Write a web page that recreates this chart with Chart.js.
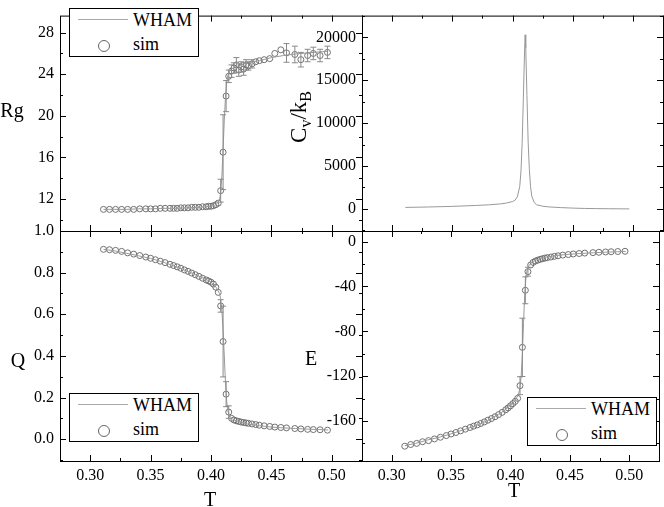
<!DOCTYPE html>
<html>
<head>
<meta charset="utf-8">
<script src="https://cdn.jsdelivr.net/npm/chart.js@4.4.0/dist/chart.umd.min.js"></script>
<style>
  body { margin: 0; background: #fff; }
  #wrap { position: relative; width: 664px; height: 507px; font-family: "Liberation Serif", "Times New Roman", serif; color: #000; }
  #wrap canvas { position: absolute; left: 0; top: 0; }
  .title { position: absolute; font-size: 20px; line-height: 1; white-space: nowrap; transform: translate(-50%, -50%); }
  .title sub { font-size: 16px; vertical-align: -5px; }
  .rot { font-size: 23px; transform: translate(-50%, -50%) rotate(-90deg); }
  .legend { position: absolute; width: 128px; height: 47px; border: 1px solid #000; background: #fff; font-size: 18px; }
  .legend .ln { position: absolute; left: 8px; top: 10px; width: 50px; border-top: 1px solid #aaa; }
  .legend .pt { position: absolute; left: 28px; top: 31px; width: 10px; height: 10px; border: 1px solid #666; border-radius: 50%; }
  .legend .t1 { position: absolute; left: 63px; top: 1px; }
  .legend .t2 { position: absolute; left: 63px; top: 25px; }
</style>
</head>
<body>
<div id="wrap">
  <canvas id="rgChart" width="664" height="507"></canvas>
  <canvas id="cvChart" width="664" height="507"></canvas>
  <canvas id="qChart" width="664" height="507"></canvas>
  <canvas id="eChart" width="664" height="507"></canvas>

  <div class="title" style="left:12px; top:110px;">Rg</div>
  <div class="title rot" style="left:300px; top:117px;">C<sub>v</sub>/k<sub>B</sub></div>
  <div class="title" style="left:18px; top:360px;">Q</div>
  <div class="title" style="left:311px; top:358px;">E</div>
  <div class="title" style="left:210px; top:499px;">T</div>
  <div class="title" style="left:514px; top:490px;">T</div>

  <div class="legend" style="left:69px; top:8px;"><div class="ln"></div><span class="t1">WHAM</span><div class="pt"></div><span class="t2">sim</span></div>
  <div class="legend" style="left:69px; top:393px;"><div class="ln"></div><span class="t1">WHAM</span><div class="pt"></div><span class="t2">sim</span></div>
  <div class="legend" style="left:527px; top:397px;"><div class="ln"></div><span class="t1">WHAM</span><div class="pt"></div><span class="t2">sim</span></div>
</div>

<script>
// simulation temperatures and values
const T_SIM = [0.311, 0.316, 0.321, 0.326, 0.331, 0.336, 0.341, 0.346, 0.350, 0.354, 0.358, 0.362, 0.366,
  0.369, 0.372, 0.375, 0.378, 0.381, 0.384, 0.387, 0.390, 0.393, 0.396, 0.398, 0.400, 0.402, 0.404, 0.406,
  0.408, 0.410, 0.4125, 0.4147, 0.417, 0.419, 0.421, 0.423, 0.425, 0.427, 0.429, 0.431, 0.434, 0.437, 0.440,
  0.444, 0.4486, 0.4528, 0.4578, 0.4625, 0.4694, 0.4744, 0.480, 0.4847, 0.4903, 0.4964];

const RG_SIM = [11.0, 11.0, 11.0, 11.0, 11.0, 11.0, 11.05, 11.05, 11.05, 11.05, 11.1, 11.1, 11.1,
  11.1, 11.1, 11.15, 11.15, 11.15, 11.2, 11.2, 11.2, 11.25, 11.25, 11.3, 11.3, 11.35, 11.45, 11.6,
  12.8, 16.5, 21.9, 23.8, 24.3, 24.6, 24.9, 24.4, 24.7, 24.5, 24.9, 24.8, 25.0, 25.2, 25.3,
  25.4, 25.5, 26.0, 26.35, 26.05, 25.9, 25.4, 25.8, 26.0, 25.8, 26.1];
const RG_ERR = [0.05, 0.05, 0.05, 0.05, 0.05, 0.05, 0.05, 0.05, 0.05, 0.05, 0.05, 0.05, 0.05,
  0.05, 0.05, 0.05, 0.05, 0.05, 0.05, 0.05, 0.05, 0.05, 0.05, 0.05, 0.05, 0.08, 0.1, 0.2,
  1.1, 3.6, 1.5, 0.6, 0.6, 0.5, 0.7, 0.6, 0.5, 0.6, 0.5, 0.4, 0.4, 0.3, 0.3,
  0.3, 0.3, 0.3, 0.3, 0.9, 0.8, 0.7, 0.6, 0.6, 0.6, 0.6];

const Q_SIM = [0.912, 0.910, 0.907, 0.902, 0.895, 0.889, 0.882, 0.875, 0.869, 0.862, 0.855, 0.848, 0.840,
  0.834, 0.828, 0.821, 0.813, 0.806, 0.798, 0.790, 0.782, 0.773, 0.765, 0.760, 0.754, 0.745, 0.730, 0.705,
  0.640, 0.469, 0.216, 0.130, 0.100, 0.092, 0.088, 0.085, 0.082, 0.080, 0.078, 0.076, 0.073, 0.070, 0.067,
  0.064, 0.061, 0.058, 0.056, 0.054, 0.051, 0.049, 0.047, 0.046, 0.045, 0.043];
const Q_ERR = [0.003, 0.003, 0.003, 0.003, 0.003, 0.003, 0.003, 0.003, 0.003, 0.003, 0.003, 0.003, 0.003,
  0.003, 0.003, 0.003, 0.003, 0.003, 0.003, 0.003, 0.003, 0.003, 0.003, 0.003, 0.003, 0.004, 0.006, 0.01,
  0.03, 0.17, 0.06, 0.03, 0.005, 0.005, 0.005, 0.005, 0.005, 0.005, 0.005, 0.005, 0.004, 0.004, 0.004,
  0.004, 0.004, 0.004, 0.004, 0.004, 0.004, 0.004, 0.004, 0.004, 0.004, 0.004];

const E_SIM = [-182.5, -181, -180, -178.5, -177.5, -176, -174.5, -173, -171.6, -170.3, -168.8, -167.3, -165.8,
  -164.6, -163.5, -162.2, -160.8, -159.3, -157.8, -156.2, -154.3, -152.3, -150, -148.3, -146.5, -144.5, -142.5, -139.8,
  -128.5, -94.3, -43.4, -26.8, -20.8, -18.5, -17.3, -16.5, -15.8, -15.2, -14.7, -14.3, -13.7, -13.1, -12.6,
  -12.0, -11.5, -11.0, -10.6, -10.2, -9.8, -9.5, -9.2, -9.0, -8.8, -8.6];
const E_ERR = [0.5, 0.5, 0.5, 0.5, 0.5, 0.5, 0.5, 0.5, 0.5, 0.5, 0.5, 0.5, 0.5,
  0.5, 0.5, 0.5, 0.5, 0.5, 0.5, 0.5, 0.5, 0.5, 0.5, 0.5, 0.5, 0.6, 0.8, 1.2,
  8, 26, 12, 4, 1, 0.6, 0.5, 0.5, 0.5, 0.5, 0.5, 0.5, 0.5, 0.5, 0.5,
  0.5, 0.5, 0.5, 0.5, 0.5, 0.5, 0.5, 0.5, 0.5, 0.5, 0.5];

// WHAM curves
const T_WHAM = [0.311, 0.32, 0.33, 0.34, 0.35, 0.36, 0.37, 0.38, 0.39, 0.395, 0.40, 0.403, 0.405, 0.407,
  0.408, 0.409, 0.410, 0.411, 0.412, 0.413, 0.414, 0.415, 0.417, 0.420, 0.425, 0.43, 0.44, 0.45, 0.46,
  0.47, 0.48, 0.49, 0.497];
const RG_WHAM = [11.0, 11.0, 11.0, 11.05, 11.05, 11.1, 11.1, 11.15, 11.2, 11.25, 11.3, 11.4, 11.55, 11.9,
  12.6, 14.2, 16.8, 19.6, 21.8, 23.2, 23.9, 24.2, 24.5, 24.7, 24.9, 25.1, 25.3, 25.6, 25.8,
  25.95, 26.05, 26.15, 26.2];
const Q_WHAM = [0.912, 0.905, 0.893, 0.881, 0.868, 0.851, 0.831, 0.808, 0.783, 0.770, 0.755, 0.74, 0.722, 0.70,
  0.675, 0.62, 0.52, 0.40, 0.27, 0.18, 0.135, 0.115, 0.10, 0.09, 0.08, 0.073, 0.065, 0.058, 0.054,
  0.051, 0.048, 0.046, 0.044];
const E_WHAM = [-182, -180, -177, -174.5, -171.5, -168, -164.5, -160, -154, -150.5, -146, -143, -140, -135,
  -130, -120, -100, -72, -46, -32, -25, -22, -19.5, -17, -15, -13.8, -12.2, -11.2, -10.5,
  -9.9, -9.4, -9.0, -8.8];

const T_CV = [0.311, 0.33, 0.35, 0.37, 0.38, 0.39, 0.395, 0.400, 0.402, 0.404, 0.406, 0.407, 0.408, 0.409,
  0.410, 0.4105, 0.411, 0.412, 0.413, 0.414, 0.415, 0.416, 0.418, 0.420, 0.425, 0.430, 0.440, 0.450,
  0.460, 0.470, 0.480, 0.490, 0.497];
const CV_WHAM = [170, 220, 290, 400, 470, 580, 680, 850, 1000, 1400, 2600, 4300, 7600, 12800,
  18300, 20300, 18800, 13200, 7800, 4600, 2600, 1500, 750, 480, 310, 230, 150, 90,
  50, 30, 15, 5, 0];

// axis ticks
const T_TICKS = [0.30, 0.35, 0.40, 0.45, 0.50];
const RG_TICKS = [12, 16, 20, 24, 28];
const CV_TICKS = [0, 5000, 10000, 15000, 20000];
const Q_TICKS = [0.0, 0.2, 0.4, 0.6, 0.8, 1.0];
const E_TICKS = [-160, -120, -80, -40, 0];

Chart.defaults.font.family = "'Liberation Serif', 'Times New Roman', serif";
const FONT = { family: "'Liberation Serif', 'Times New Roman', serif", size: 16 };
const toXY = (xs, ys) => xs.map((x, i) => ({ x: x, y: ys[i] }));

// box frame with inward major/minor ticks on all sides
const frameTicks = {
  id: 'frameTicks',
  afterDraw(chart) {
    const ctx = chart.ctx;
    const { left, right, top, bottom } = chart.chartArea;
    const xs = chart.scales.x, ys = chart.scales.y;
    const minors = (vals, lo, hi) => {
      const step = vals[1] - vals[0];
      const out = [];
      for (let i = -1; i < vals.length; i++) {
        const v = vals[0] + (i + 0.5) * step;
        if (v > lo && v < hi) out.push(v);
      }
      return out;
    };
    const xv = xs.ticks.map(t => t.value), yv = ys.ticks.map(t => t.value);
    ctx.save();
    ctx.strokeStyle = '#000';
    ctx.lineWidth = 1;
    ctx.beginPath();
    const tick = (vals, len) => {
      vals.forEach(v => {
        const px = Math.round(xs.getPixelForValue(v)) + 0.5;
        ctx.moveTo(px, bottom); ctx.lineTo(px, bottom - len);
        ctx.moveTo(px, top); ctx.lineTo(px, top + len);
      });
    };
    const ytick = (vals, len) => {
      vals.forEach(v => {
        const py = Math.round(ys.getPixelForValue(v)) + 0.5;
        ctx.moveTo(left, py); ctx.lineTo(left + len, py);
        ctx.moveTo(right, py); ctx.lineTo(right - len, py);
      });
    };
    tick(xv, 6);
    tick(minors(xv, xs.min, xs.max), 3);
    ytick(yv, 6);
    ytick(minors(yv, ys.min, ys.max), 3);
    ctx.stroke();
    ctx.strokeRect(left + 0.5, top + 0.5, right - left, bottom - top);
    ctx.restore();
  }
};

const errorBars = {
  id: 'errorBars',
  afterDatasetsDraw(chart) {
    const ctx = chart.ctx;
    const xs = chart.scales.x, ys = chart.scales.y;
    ctx.save();
    ctx.strokeStyle = '#8a8a8a';
    ctx.lineWidth = 1;
    ctx.beginPath();
    chart.data.datasets.forEach(ds => {
      if (!ds.errs) return;
      ds.data.forEach((p, i) => {
        const e = ds.errs[i];
        const px = xs.getPixelForValue(p.x);
        const y1 = ys.getPixelForValue(p.y - e), y2 = ys.getPixelForValue(p.y + e);
        if (Math.abs(y1 - y2) < 7) return;
        ctx.moveTo(px, y1); ctx.lineTo(px, y2);
        ctx.moveTo(px - 3, y1); ctx.lineTo(px + 3, y1);
        ctx.moveTo(px - 3, y2); ctx.lineTo(px + 3, y2);
      });
    });
    ctx.stroke();
    ctx.restore();
  }
};

function whamSet(xs, ys) {
  return { data: toXY(xs, ys), showLine: true, borderColor: '#999', borderWidth: 1, pointRadius: 0, tension: 0 };
}
function simSet(xs, ys, errs) {
  return { data: toXY(xs, ys), errs: errs, showLine: false, pointRadius: 3, borderWidth: 1,
    borderColor: '#707070', backgroundColor: 'rgba(0,0,0,0)' };
}

function panel(id, o) {
  return new Chart(document.getElementById(id), {
    type: 'scatter',
    data: { datasets: o.datasets },
    options: {
      responsive: false,
      animation: false,
      layout: { padding: o.pad },
      plugins: { legend: { display: false }, tooltip: { enabled: false } },
      scales: {
        x: {
          type: 'linear', min: 0.275, max: 0.525, display: o.showX,
          grid: { display: false, drawTicks: false }, border: { display: false },
          ticks: { font: FONT, color: '#000', padding: 5, maxRotation: 0, callback: v => v.toFixed(2) },
          afterBuildTicks: s => { s.ticks = T_TICKS.map(v => ({ value: v })); },
          afterFit: s => { s.height = o.showX ? 46 : 0; }
        },
        y: {
          type: 'linear', min: o.yMin, max: o.yMax,
          grid: { display: false, drawTicks: false }, border: { display: false },
          ticks: { font: FONT, color: '#000', padding: 6, callback: o.fmt },
          afterBuildTicks: s => { s.ticks = o.yTicks.map(v => ({ value: v })); },
          afterFit: s => { s.width = 60; }
        }
      }
    },
    plugins: [errorBars, frameTicks]
  });
}

panel('rgChart', {
  pad: { left: 0, right: 302, top: 0, bottom: 276 }, showX: false,
  yMin: 8.92, yMax: 29.64, yTicks: RG_TICKS, fmt: v => String(v),
  datasets: [whamSet(T_WHAM, RG_WHAM), simSet(T_SIM, RG_SIM, RG_ERR)]
});
panel('cvChart', {
  pad: { left: 302, right: 1, top: 0, bottom: 276 }, showX: false,
  yMin: -2580, yMax: 22540, yTicks: CV_TICKS, fmt: v => String(v),
  datasets: [whamSet(T_CV, CV_WHAM)]
});
panel('qChart', {
  pad: { left: 0, right: 302, top: 231, bottom: 0 }, showX: true,
  yMin: -0.105, yMax: 1.0, yTicks: Q_TICKS, fmt: v => v.toFixed(1),
  datasets: [whamSet(T_WHAM, Q_WHAM), simSet(T_SIM, Q_SIM, Q_ERR)]
});
panel('eChart', {
  pad: { left: 302, right: 1, top: 231, bottom: 0 }, showX: true,
  yMin: -195.7, yMax: 9.5, yTicks: E_TICKS, fmt: v => String(v),
  datasets: [whamSet(T_WHAM, E_WHAM), simSet(T_SIM, E_SIM, E_ERR)]
});
</script>
</body>
</html>
